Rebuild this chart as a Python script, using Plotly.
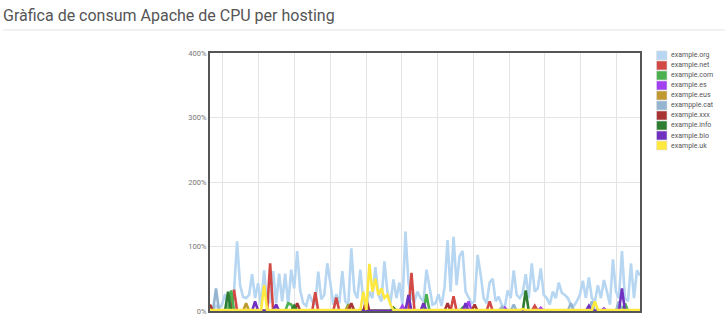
import plotly.graph_objects as go

N = 144
X = list(range(N))

SERIES = ["example.org", "example.net", "example.com", "example.es", "example.eus",
          "exampple.cat", "example.xxx", "example.info", "example.bio", "example.uk"]
COLORS = ["#b6d6f2", "#d24a45", "#4caf50", "#a040f0", "#c09a30",
          "#94b4d0", "#a83434", "#2e7d32", "#7030c0", "#ffe840"]

ORG = [5, 3, 8, 4, 10, 26, 8, 12, 30, 108, 40, 22, 20, 25, 57, 20, 43, 8, 63, 10,
       15, 62, 12, 58, 15, 58, 10, 64, 35, 93, 32, 12, 8, 26, 15, 10, 61, 18, 25, 74,
       44, 10, 26, 12, 62, 15, 10, 97, 30, 20, 64, 15, 8, 30, 20, 68, 25, 15, 77, 30,
       12, 49, 20, 44, 10, 123, 44, 20, 15, 30, 20, 15, 64, 35, 10, 12, 26, 8, 37, 110,
       30, 115, 40, 85, 93, 30, 20, 12, 15, 87, 57, 20, 12, 44, 50, 15, 22, 10, 5, 32,
       20, 63, 25, 20, 28, 57, 20, 74, 30, 35, 66, 25, 20, 10, 30, 20, 44, 28, 25, 20,
       10, 8, 15, 25, 47, 20, 52, 20, 15, 40, 20, 48, 30, 10, 80, 30, 20, 93, 20, 15,
       74, 20, 63, 55]

# sparse readings (index: value %), everything else ~0
NET = {8: 33, 20: 74, 35: 29, 42: 21, 67: 59, 81: 23, 93: 15, 108: 8}
COM = {7: 32, 26: 12, 27: 10, 46: 10, 72: 26, 84: 5, 138: 12}
ES = {64: 8, 86: 15, 98: 5, 110: 5, 131: 4}
EUS = {12: 12, 46: 8, 126: 5, 52: 6}
CAT = {2: 35, 101: 10, 120: 12, 127: 15, 136: 15, 97: 6}
XXX = {0: 10, 29: 12, 47: 12, 52: 18, 79: 12, 88: 10}
INFO = {6: 30, 28: 8, 61: 5, 105: 32}
BIO = {15: 15, 22: 10, 66: 25, 71: 12, 85: 12, 126: 8, 137: 35}
UK = {18: 40, 51: 30, 53: 73, 54: 30, 55: 50, 56: 25, 57: 35, 58: 20, 59: 25, 60: 10,
      104: 3, 128: 15}
UK_BASE = 1.5


def expand(sparse, base=0.0):
    return [sparse.get(i, base) for i in X]


VALUES = [ORG, expand(NET), expand(COM), expand(ES), expand(EUS), expand(CAT),
          expand(XXX), expand(INFO), expand(BIO), expand(UK, UK_BASE)]

fig = go.Figure()
for name, col, vals in zip(SERIES, COLORS, VALUES):
    fig.add_trace(go.Scatter(x=X, y=vals, mode="lines", name=name,
                             line=dict(color=col, width=2.6), showlegend=False))

# manual legend (tight spacing like the reference)
PX_L, PX_R, PX_T, PX_B = 210, 640, 53, 316
W, H = PX_R - PX_L, PX_B - PX_T


def px(x):
    return (x - PX_L) / W


def py(y):
    return (PX_B - y) / H


shapes = []
annotations = []
for k, (name, col) in enumerate(zip(SERIES, COLORS)):
    cy = 55.5 + k * 10.2
    shapes.append(dict(type="rect", xref="paper", yref="paper",
                       x0=px(656.5), x1=px(667), y0=py(cy - 4.6), y1=py(cy + 4.6),
                       fillcolor=col, line=dict(color="#dddddd", width=0.6)))
    annotations.append(dict(text=name, xref="paper", yref="paper", x=px(669), y=py(cy),
                            xanchor="left", yanchor="middle", showarrow=False,
                            font=dict(family="Roboto, Arial", size=7, color="#555")))

# separator under title
shapes.append(dict(type="line", xref="paper", yref="paper", x0=px(3), x1=px(725),
                   y0=py(29.5), y1=py(29.5), line=dict(color="#e2e2e2", width=1)))

fig.update_layout(
    width=728, height=320,
    margin=dict(l=PX_L, r=728 - PX_R, t=PX_T, b=320 - PX_B),
    paper_bgcolor="white", plot_bgcolor="white",
    title=dict(text="Gràfica de consum Apache de CPU per hosting",
               xref="container", yref="container", x=3 / 728, xanchor="left",
               y=1 - 15 / 320, yanchor="middle",
               font=dict(family="Roboto, Arial", size=16, color="#555")),
    shapes=shapes, annotations=annotations,
    xaxis=dict(range=[0, N - 1], showticklabels=False, showgrid=True,
               gridcolor="#e4e4e4", gridwidth=1, tick0=4.3, dtick=11.9,
               showline=True, linecolor="#555", linewidth=2, mirror=True,
               zeroline=False, ticks=""),
    yaxis=dict(range=[0, 400], dtick=100, ticksuffix="%", showgrid=True,
               gridcolor="#e4e4e4", gridwidth=1, zeroline=False,
               showline=True, linecolor="#555", linewidth=2, mirror=True,
               ticks="", ticklabeloverflow="allow",
               tickfont=dict(family="Roboto, Arial", size=7.5, color="#777")),
)

fig.write_html("out.html")
